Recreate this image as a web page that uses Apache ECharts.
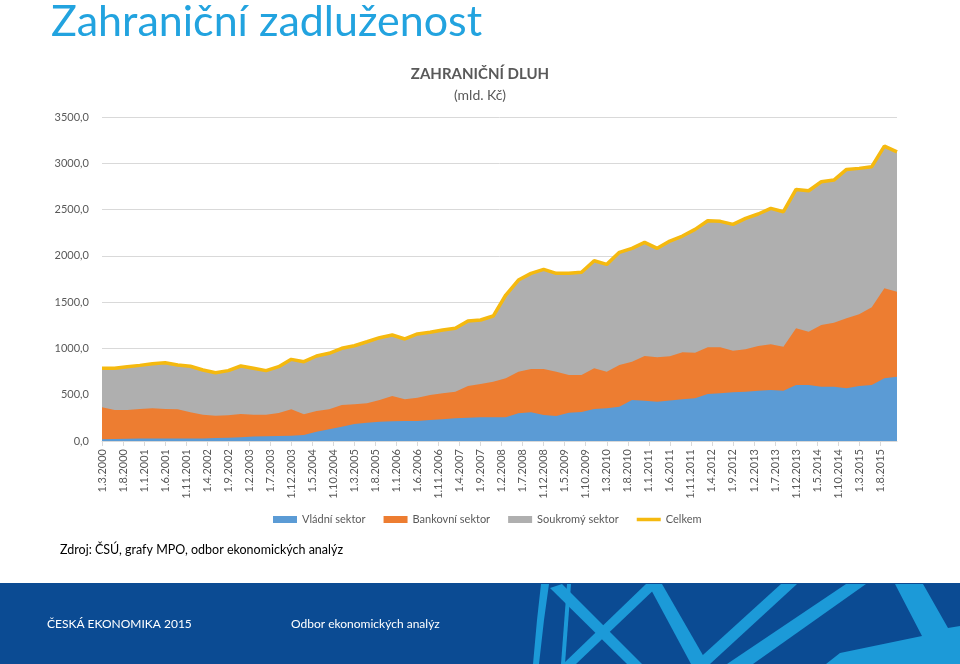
<!DOCTYPE html>
<html>
<head>
<meta charset="utf-8">
<script src="https://cdn.jsdelivr.net/npm/echarts@6/dist/echarts.min.js"></script>
<style>
html,body{margin:0;padding:0;background:#fff;}
#chart{width:960px;height:664px;}
</style>
</head>
<body>
<div id="chart"></div>
<script>
// Quarterly observation dates (month.year)
const quarters = [
 '3.2000','6.2000','9.2000','12.2000','3.2001','6.2001','9.2001','12.2001',
 '3.2002','6.2002','9.2002','12.2002','3.2003','6.2003','9.2003','12.2003',
 '3.2004','6.2004','9.2004','12.2004','3.2005','6.2005','9.2005','12.2005',
 '3.2006','6.2006','9.2006','12.2006','3.2007','6.2007','9.2007','12.2007',
 '3.2008','6.2008','9.2008','12.2008','3.2009','6.2009','9.2009','12.2009',
 '3.2010','6.2010','9.2010','12.2010','3.2011','6.2011','9.2011','12.2011',
 '3.2012','6.2012','9.2012','12.2012','3.2013','6.2013','9.2013','12.2013',
 '3.2014','6.2014','9.2014','12.2014','3.2015','6.2015','9.2015','12.2015'
];
const seriesNames = ['Vládní sektor','Bankovní sektor','Soukromý sektor','Celkem'];
const vladni = [20,22,24,26,27,28,28,27,28,32,36,40,48,52,54,56,65,101,126,155,184,198,209,212,216,216,227,234,245,252,256,256,256,299,310,281,270,306,313,346,353,371,443,436,425,437,450,461,508,515,526,533,544,551,544,605,605,587,587,569,594,605,677,694];
const bankovni = [344,313,311,320,326,318,314,283,256,242,241,252,236,232,248,286,223,223,216,234,212,209,234,274,234,252,270,281,288,342,360,385,421,450,468,497,479,407,400,439,396,450,414,482,479,478,508,493,504,497,450,457,482,493,475,612,576,666,691,756,774,839,972,919];
const soukromy = [421,450,468,471,482,500,479,497,483,464,483,518,501,476,501,540,569,594,605,612,633,665,673,659,652,688,677,684,684,702,691,709,900,990,1033,1076,1062,1098,1109,1162,1159,1217,1224,1228,1177,1245,1256,1332,1367,1361,1364,1415,1426,1469,1458,1501,1522,1548,1541,1609,1577,1519,1537,1511];
const celkem = [785,785,803,817,835,846,821,807,767,738,760,810,785,760,803,882,857,918,947,1001,1029,1072,1116,1145,1102,1156,1174,1199,1217,1296,1307,1350,1577,1739,1811,1854,1811,1811,1822,1947,1908,2038,2081,2146,2081,2160,2214,2286,2379,2373,2340,2405,2452,2513,2477,2718,2703,2801,2819,2934,2945,2963,3186,3124];
const yTicks = [0,500,1000,1500,2000,2500,3000,3500];

// month offset from 1.3.2000
function monthOffset(q){ const p=q.split('.'); return (parseInt(p[1])-2000)*12 + parseInt(p[0]) - 3; }
function offsetLabel(m){ const mm=(2+m)%12+1; const yy=2000+Math.floor((2+m)/12); return '1.'+mm+'.'+yy; }
const xs = quarters.map(monthOffset);
const pairs = arr => arr.map((v,i)=>[xs[i], v]);
// stacked tops (areas drawn from zero, lowest layer in front)
const stack2 = vladni.map((v,i)=>v+bankovni[i]);
const stack3 = stack2.map((v,i)=>v+soukromy[i]);

const FONT = 'Lato, "Open Sans", sans-serif';
const LIGHT = '#1c9ad8', DARK = '#0b4b93';
const decor = [
  [[541,584],[549,584],[544,620],[539,664],[533,664],[537,620]],
  [[567,584],[571,584],[565,664],[561,664]],
  [[550,588],[562,584],[642,664],[627,664]],
  [[563,664],[576,664],[660,584],[646,584]],
  [[648,584],[662,584],[708,664],[691,664]],
  [[693,664],[710,664],[797,584],[781,584]],
  [[727,664],[753,664],[866,584],[846,584]],
  [[895,584],[923,584],[948,628],[960,626],[960,664],[826,664],[840,653],[922,636]]
];
const chart = echarts.init(document.getElementById('chart'));
chart.setOption({
  animation:false,
  backgroundColor:'#ffffff',
  title:[
    {text:'Zahraniční zadluženost', left:46, top:-4,
     textStyle:{fontFamily:FONT, fontSize:43, fontWeight:'normal', color:'#22a3df'}},
    {text:'ZAHRANIČNÍ DLUH', subtext:'(mld. Kč)', left:'center', top:62, itemGap:6,
     textStyle:{fontFamily:FONT, fontSize:15, fontWeight:'bold', color:'#595959'},
     subtextStyle:{fontFamily:FONT, fontSize:14, color:'#595959'}}
  ],
  legend:{
    left:268, top:509, itemWidth:24, itemHeight:7, itemGap:18,
    textStyle:{fontFamily:FONT, fontSize:11, color:'#595959'},
    data:[
      {name:seriesNames[0], icon:'rect'},
      {name:seriesNames[1], icon:'rect'},
      {name:seriesNames[2], icon:'rect'},
      {name:seriesNames[3], icon:'path://M0,0L24,0L24,3.5L0,3.5Z'}
    ]
  },
  grid:{left:102, right:63, top:117, bottom:223},
  xAxis:{
    type:'value', min:0, max:xs[xs.length-1], interval:5,
    axisLine:{show:true, lineStyle:{color:'#d9d9d9'}},
    axisTick:{show:true, length:5, lineStyle:{color:'#d9d9d9'}},
    splitLine:{show:false},
    axisLabel:{rotate:90, showMaxLabel:false, margin:8, fontFamily:FONT, fontSize:11, color:'#595959',
      formatter:v=>offsetLabel(v)}
  },
  yAxis:{
    type:'value', min:yTicks[0], max:yTicks[yTicks.length-1], interval:500,
    axisLine:{show:false}, axisTick:{show:false},
    splitLine:{lineStyle:{color:'#d9d9d9', width:1}},
    axisLabel:{margin:13, fontFamily:FONT, fontSize:11, color:'#595959',
      formatter:v=>v.toFixed(1).replace('.',',')}
  },
  series:[
    {name:seriesNames[2], type:'line', data:pairs(stack3), symbol:'none', z:2,
     lineStyle:{width:0}, itemStyle:{color:'#afafaf'}, areaStyle:{color:'#afafaf', opacity:1}},
    {name:seriesNames[1], type:'line', data:pairs(stack2), symbol:'none', z:3,
     lineStyle:{width:0}, itemStyle:{color:'#ed7d31'}, areaStyle:{color:'#ed7d31', opacity:1}},
    {name:seriesNames[0], type:'line', data:pairs(vladni), symbol:'none', z:4,
     lineStyle:{width:0}, itemStyle:{color:'#5b9bd5'}, areaStyle:{color:'#5b9bd5', opacity:1}},
    {name:seriesNames[3], type:'line', data:pairs(celkem), symbol:'none', z:5,
     lineStyle:{width:3.5, color:'#f5b90f'}, itemStyle:{color:'#f5b90f'}}
  ],
  graphic:[
    {type:'text', left:60, top:543, style:{text:'Zdroj: ČSÚ, grafy MPO, odbor ekonomických analýz',
      font:'12.5px '+FONT, fill:'#000000'}},
    {type:'rect', shape:{x:0,y:583,width:960,height:81}, style:{fill:DARK}, z:1}
  ].concat(decor.map(p=>({type:'polygon', shape:{points:p}, style:{fill:LIGHT}, z:2}))).concat([
    {type:'text', left:47, top:618, z:4, style:{text:'ČESKÁ EKONOMIKA 2015', font:'12px '+FONT, fill:'#ffffff'}},
    {type:'text', left:291, top:618, z:4, style:{text:'Odbor ekonomických analýz', font:'12px '+FONT, fill:'#ffffff'}}
  ])
});
</script>
</body>
</html>
